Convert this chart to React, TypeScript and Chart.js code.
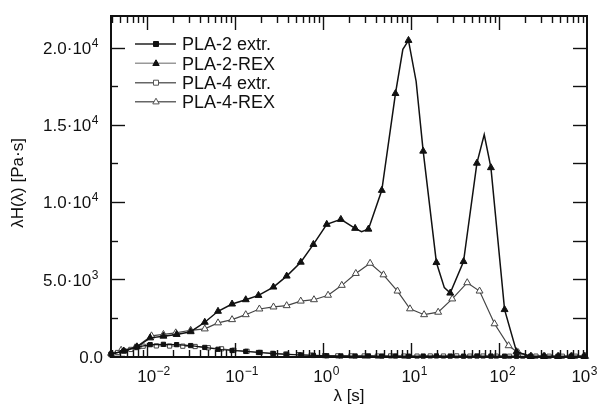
import React, { useEffect, useRef } from "react";
import { Chart, registerables } from "chart.js";

Chart.register(...registerables);

const FONT = '"Liberation Sans", Arial, Helvetica, sans-serif';

// ---- data (λ in s, λH(λ) in Pa·s) ----
const pla2ExtrLambda = [0.00394, 0.0055, 0.00776, 0.01096, 0.0155, 0.0219, 0.0316, 0.0457, 0.0646, 0.0933, 0.1334, 0.186, 0.275, 0.389, 0.562, 0.782, 1.109, 1.603, 2.328, 3.296, 4.677, 6.683, 9.397, 13.8, 19.5, 27.99, 39.63, 56.23, 81.1, 115.9, 158.5, 229, 324, 468, 661, 933];
const pla2ExtrValues = [150, 350, 600, 760, 780, 760, 700, 580, 460, 380, 320, 250, 180, 130, 90, 60, 40, 30, 25, 30, 20, 25, 15, 20, 30, 20, 15, 25, 20, 15, 10, 10, 15, 10, 10, 15];

const pla2RexLambda = [0.00394, 0.0055, 0.00776, 0.01096, 0.0155, 0.0219, 0.0316, 0.0457, 0.0646, 0.0933, 0.1334, 0.186, 0.275, 0.389, 0.562, 0.782, 1.109, 1.603, 2.328, 2.754, 3.296, 4.677, 6.683, 8.11, 9.397, 11.48, 13.8, 19.5, 23.99, 27.99, 39.63, 56.23, 68.08, 81.1, 115.9, 158.5, 229, 324, 468, 661, 933];
const pla2RexValues = [150, 350, 620, 1200, 1310, 1420, 1600, 2210, 2920, 3390, 3670, 3950, 4490, 5200, 6100, 7250, 8550, 8870, 8290, 8070, 8240, 10750, 17020, 19880, 20460, 17800, 13290, 6075, 4450, 4100, 6140, 12510, 14360, 12220, 3030, 300, 0, 0, 0, 0, 0];
// knots of the PLA-2-REX curve drawn without a symbol
const pla2RexLineOnlyLambda = [0.00394, 2.754, 8.11, 11.48, 23.99, 68.08];

const pla4ExtrLambda = [0.00394, 0.00468, 0.00661, 0.00912, 0.01288, 0.0182, 0.0257, 0.0355, 0.0501, 0.0708, 0.0977, 0.138, 0.195, 0.269, 0.38, 0.537, 0.741, 1.047, 1.479, 2.089, 2.951, 4.169, 5.888, 8.318, 11.75, 16.6, 23.44, 33.11, 46.77, 66.07, 93.33, 131.8, 186.2, 263, 371.5, 524.8, 741.3];
const pla4ExtrValues = [100, 250, 450, 660, 680, 670, 660, 640, 560, 490, 400, 330, 260, 200, 150, 110, 80, 50, 35, 30, 25, 20, 30, 20, 15, 25, 20, 30, 15, 20, 15, 10, 10, 15, 10, 10, 10];

const pla4RexLambda = [0.00394, 0.00513, 0.00741, 0.01135, 0.0155, 0.0214, 0.0316, 0.0457, 0.0646, 0.0933, 0.1334, 0.1905, 0.2754, 0.389, 0.562, 0.794, 1.148, 1.644, 2.371, 3.443, 4.887, 7.047, 9.772, 14.13, 20.42, 29.51, 43.65, 60.26, 89.13, 128.8, 166.0, 234.4, 331.1, 478.6, 676.1, 955.0];
const pla4RexValues = [200, 400, 560, 1330, 1420, 1525, 1690, 1780, 2170, 2380, 2700, 3070, 3200, 3285, 3580, 3670, 3960, 4600, 5370, 6030, 5280, 4230, 3080, 2700, 2860, 3720, 4770, 4230, 2110, 690, 240, 0, 0, 0, 0, 0];

const seriesNames = ["PLA-2 extr.", "PLA-2-REX", "PLA-4 extr.", "PLA-4-REX"];

// axis ticks
const xMin = 0.003936;
const xMax = 1000;
const yMin = -40;
const yMax = 22040;
const xDecadeExponents = [-2, -1, 0, 1, 2, 3];
const yTickValues = [0, 5000, 10000, 15000, 20000];
const yTickBase = ["0.0", "5.0·10", "1.0·10", "1.5·10", "2.0·10"];
const yTickSup = ["", "3", "4", "4", "4"];
const yMinorStep = 2500;

const zip = (xs: number[], ys: number[]) => xs.map((x, i) => ({ x, y: ys[i] }));

function drawSup(ctx: CanvasRenderingContext2D, base: string, sup: string, x: number, baseline: number, align: "right" | "center") {
  ctx.font = `17px ${FONT}`;
  const bw = ctx.measureText(base).width;
  ctx.font = `12px ${FONT}`;
  const sw = sup ? ctx.measureText(sup).width : 0;
  let sx: number;
  if (align === "right") sx = x - bw - sw;
  else {
    sx = x - bw / 2;
    if (sx + bw + sw > 597) sx = 597 - bw - sw;
  }
  ctx.textAlign = "left";
  ctx.textBaseline = "alphabetic";
  ctx.font = `17px ${FONT}`;
  ctx.fillText(base, sx, baseline);
  if (sup) {
    ctx.font = `12px ${FONT}`;
    ctx.fillText(sup, sx + bw + 0.5, baseline - 7);
  }
}

function marker(ctx: CanvasRenderingContext2D, kind: string, x: number, y: number, fill: string, stroke: string) {
  ctx.beginPath();
  if (kind === "rect") {
    ctx.rect(x - 2.5, y - 2.5, 5, 5);
  } else {
    ctx.moveTo(x, y - 3.5);
    ctx.lineTo(x + 3.2, y + 2.2);
    ctx.lineTo(x - 3.2, y + 2.2);
    ctx.closePath();
  }
  ctx.fillStyle = fill;
  ctx.fill();
  ctx.strokeStyle = stroke;
  ctx.lineWidth = 1;
  ctx.stroke();
}

const framePlugin = {
  id: "frameAxes",
  afterDatasetsDraw(chart: any) {
    const ctx: CanvasRenderingContext2D = chart.ctx;
    const a = chart.chartArea;
    const xs = chart.scales.x;
    const ys = chart.scales.y;
    ctx.save();
    ctx.strokeStyle = "#111";
    ctx.lineWidth = 1.4;
    const line = (x1: number, y1: number, x2: number, y2: number) => {
      ctx.beginPath();
      ctx.moveTo(x1, y1);
      ctx.lineTo(x2, y2);
      ctx.stroke();
    };
    // x ticks (log)
    for (let e = -3; e <= 2; e++) {
      for (let m = 1; m <= 9; m++) {
        const v = m * Math.pow(10, e);
        if (v < xMin || v > xMax) continue;
        const px = Math.round(xs.getPixelForValue(v)) + 0.5;
        const len = m === 1 ? 14 : 7;
        line(px, a.top, px, a.top + len);
        line(px, a.bottom, px, a.bottom - len);
      }
    }
    // y ticks
    for (let v = 0; v <= 20000; v += yMinorStep) {
      const py = Math.round(ys.getPixelForValue(v)) + 0.5;
      const len = v % 5000 === 0 ? 14 : 7;
      line(a.left, py, a.left + len, py);
      line(a.right, py, a.right - 14, py);
    }
    // frame
    ctx.lineWidth = 2;
    ctx.strokeRect(a.left, a.top, a.right - a.left, a.bottom - a.top);

    // tick labels
    ctx.fillStyle = "#111";
    xDecadeExponents.forEach((e) => {
      const px = xs.getPixelForValue(Math.pow(10, e));
      const sup = e < 0 ? "\u2212" + Math.abs(e) : String(e);
      drawSup(ctx, "10", sup, px, 382, "center");
    });
    yTickValues.forEach((v, i) => {
      const py = ys.getPixelForValue(v);
      drawSup(ctx, yTickBase[i], yTickSup[i], i === 0 ? 103 : 98, py + 6.5, "right");
    });

    // axis titles
    ctx.font = `17px ${FONT}`;
    ctx.textAlign = "center";
    ctx.textBaseline = "alphabetic";
    ctx.fillText("\u03bb [s]", (a.left + a.right) / 2, 401);
    ctx.save();
    ctx.translate(18, 183);
    ctx.rotate(-Math.PI / 2);
    ctx.textBaseline = "middle";
    ctx.fillText("\u03bbH(\u03bb) [Pa\u00b7s]", 0, 0);
    ctx.restore();

    // legend
    const rows = [44, 63.3, 82.7, 101.7];
    const legendStyle = [
      { line: "#222", kind: "rect", fill: "#111", stroke: "#111" },
      { line: "#999", kind: "tri", fill: "#111", stroke: "#111" },
      { line: "#666", kind: "rect", fill: "#fff", stroke: "#555" },
      { line: "#666", kind: "tri", fill: "#fff", stroke: "#555" },
    ];
    seriesNames.forEach((name, i) => {
      const y = rows[i];
      const st = legendStyle[i];
      ctx.strokeStyle = st.line;
      ctx.lineWidth = 1.6;
      line(135, y, 176, y);
      marker(ctx, st.kind, 156, y, st.fill, st.stroke);
      ctx.fillStyle = "#111";
      ctx.font = `18px ${FONT}`;
      ctx.textAlign = "left";
      ctx.textBaseline = "middle";
      ctx.fillText(name, 182, y + 1.5);
    });
    ctx.restore();
  },
};

export default function App() {
  const ref = useRef<HTMLCanvasElement>(null);
  useEffect(() => {
    const canvas = ref.current!;
    const lineOnly = new Set(pla2RexLineOnlyLambda);
    const chart = new Chart(canvas, {
      type: "line",
      data: {
        datasets: [
          {
            label: seriesNames[0],
            data: zip(pla2ExtrLambda, pla2ExtrValues),
            borderColor: "#111",
            borderWidth: 1.2,
            pointStyle: "rect",
            pointRadius: 3,
            pointBackgroundColor: "#111",
            pointBorderColor: "#111",
            pointBorderWidth: 1,
            tension: 0,
            clip: false,
          },
          {
            label: seriesNames[1],
            data: zip(pla2RexLambda, pla2RexValues),
            borderColor: "#111",
            borderWidth: 1.5,
            pointStyle: "triangle",
            pointRadius: (c: any) => (c.raw && lineOnly.has(c.raw.x) ? 0 : 4),
            pointBackgroundColor: "#111",
            pointBorderColor: "#111",
            pointBorderWidth: 1,
            tension: 0,
            clip: false,
          },
          {
            label: seriesNames[2],
            data: zip(pla4ExtrLambda, pla4ExtrValues),
            borderColor: "#555",
            borderWidth: 1,
            pointStyle: "rect",
            pointRadius: 3,
            pointBackgroundColor: "#fff",
            pointBorderColor: "#444",
            pointBorderWidth: 1,
            tension: 0,
            clip: false,
          },
          {
            label: seriesNames[3],
            data: zip(pla4RexLambda, pla4RexValues),
            borderColor: "#444",
            borderWidth: 1.2,
            pointStyle: "triangle",
            pointRadius: 4,
            pointBackgroundColor: "#fff",
            pointBorderColor: "#444",
            pointBorderWidth: 1,
            tension: 0,
            clip: false,
          },
        ],
      },
      options: {
        animation: false,
        responsive: false,
        maintainAspectRatio: false,
        layout: { padding: { left: 111, top: 16, right: 12, bottom: 55 } },
        plugins: { legend: { display: false }, tooltip: { enabled: false } },
        scales: {
          x: { type: "logarithmic", min: xMin, max: xMax, display: false },
          y: { type: "linear", min: yMin, max: yMax, display: false },
        },
      },
      plugins: [framePlugin],
    } as any);
    return () => chart.destroy();
  }, []);
  return (
    <div style={{ position: "fixed", left: 0, top: 0, width: 599, height: 412, background: "#fff" }}>
      <canvas ref={ref} width={599} height={412} style={{ width: 599, height: 412, display: "block" }} />
    </div>
  );
}
